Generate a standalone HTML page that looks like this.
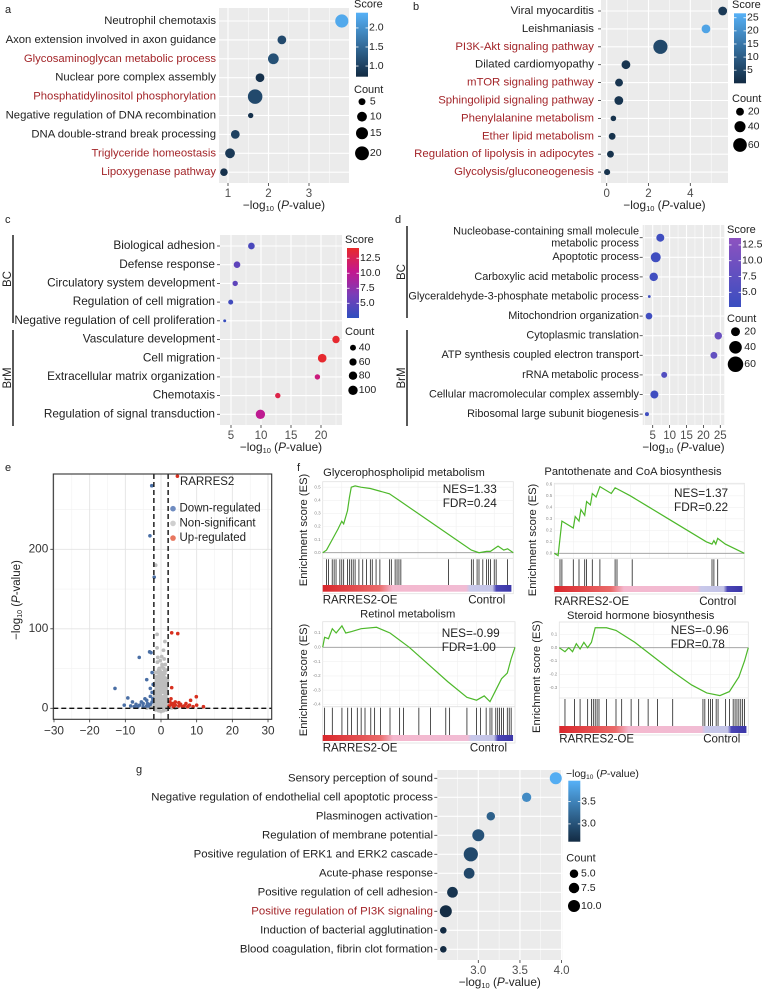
<!DOCTYPE html>
<html><head><meta charset="utf-8">
<style>
html,body{margin:0;padding:0;background:#fff;}
svg{display:block;font-family:"Liberation Sans",sans-serif;}
</style></head>
<body>
<svg id="fig" width="762" height="991" viewBox="0 0 762 991" xmlns="http://www.w3.org/2000/svg"></svg>
<script>
// ---------- Panel a data ----------
const aTerms=["Neutrophil chemotaxis","Axon extension involved in axon guidance","Glycosaminoglycan metabolic process","Nuclear pore complex assembly","Phosphatidylinositol phosphorylation","Negative regulation of DNA recombination","DNA double-strand break processing","Triglyceride homeostasis","Lipoxygenase pathway"];
const aRed=[0,0,1,0,1,0,0,1,1];
const aVals=[3.81,2.33,2.12,1.79,1.67,1.56,1.18,1.05,0.90];
const aCounts=[18,8,12,8,22,3,8,10,6];
const aScores=[2.3,1.1,1.2,0.8,1.1,0.8,1.0,0.9,0.8];
const aTicks=[1,2,3];
const aCbTicks=[2.0,1.5,1.0];
const aCntLegend=[5,10,15,20];
// ---------- Panel b data ----------
const bTerms=["Viral myocarditis","Leishmaniasis","PI3K-Akt signaling pathway","Dilated cardiomyopathy","mTOR signaling pathway","Sphingolipid signaling pathway","Phenylalanine metabolism","Ether lipid metabolism","Regulation of lipolysis in adipocytes","Glycolysis/gluconeogenesis"];
const bRed=[0,0,1,0,1,1,1,1,1,1];
const bVals=[5.55,4.75,2.57,0.92,0.59,0.58,0.32,0.26,0.18,0.02];
const bCounts=[25,25,65,25,20,25,10,15,15,12];
const bScores=[3,24,6,2,2,2,1.5,1.5,1.5,1.5];
const bTicks=[0,2,4];
const bCbTicks=[25,20,15,10,5];
const bCntLegend=[20,40,60];
// ---------- Panel c data ----------
const cTerms=["Biological adhesion","Defense response","Circulatory system development","Regulation of cell migration","Negative regulation of cell proliferation","Vasculature development","Cell migration","Extracellular matrix organization","Chemotaxis","Regulation of signal transduction"];
const cVals=[8.4,6.0,5.7,4.95,3.95,22.5,20.2,19.4,12.8,9.9];
const cCounts=[50,50,33,28,10,62,84,33,33,100];
const cScores=[4,5,5,3.5,3,14,14,11,13,10];
const cTicks=[5,10,15,20];
const cCbTicks=[12.5,10.0,7.5,5.0];
const cCntLegend=[40,60,80,100];
// ---------- Panel d data ----------
const dTerms=["Nucleobase-containing small molecule\nmetabolic process","Apoptotic process","Carboxylic acid metabolic process","Glyceraldehyde-3-phosphate metabolic process","Mitochondrion organization","Cytoplasmic translation","ATP synthesis coupled electron transport","rRNA metabolic process","Cellular macromolecular complex assembly","Ribosomal large subunit biogenesis"];
const dVals=[7.25,5.9,5.3,4.0,3.9,24.4,23.1,8.4,5.5,3.3];
const dCounts=[16,25,18,2,11,14,12,9,16,4];
const dScores=[3.5,3.5,3.5,3,3.5,9,8,6,3.5,3.5];
const dTicks=[5,10,15,20,25];
const dCbTicks=[12.5,10.0,7.5,5.0];
const dCntLegend=[20,40,60];
// ---------- Panel e data (volcano) ----------
const eDown=[[-2.6,280],[-3.1,217],[-1.9,165],[-3.2,71],[-2.8,70],[-6.1,64],[-4,36],[-12.9,25],[-9.3,13],[-10.3,4],[-8,8],[-7,5],[-6,4],[-5,6],[-4,10],[-3,15],[-3.5,3],[-2.5,20],[-2.2,30],[-6.5,2],[-5,2],[-4,3],[-3,5],[-2.5,8],[-2.3,12],[-4.5,12],[-3,25],[-2.5,45],[-8.5,3],[-7.5,2],[-5.5,8],[-3.8,6]];
const eUp=[[4.6,292],[3.0,95],[4.7,94],[3.0,26],[9.9,14.6],[8.3,10],[11.9,2],[7,6],[2.5,8],[3,5],[4,4],[5,3],[5.5,5],[6,2],[6.5,3],[4,8],[3.5,2],[7.5,2],[8,4],[9,2],[10,4],[2.8,12],[5,7],[2.3,3],[3.3,6]];
const eNs=[[-1.5,180],[-1.1,93],[1.1,84],[0.7,73],[-1.1,76],[-1,58],[0.3,55],[-0.5,50],[0.9,62],[-1.6,45],[1.5,48],[-0.8,40],[0.5,42],[1.8,35],[-1.8,30],[0.2,38],[-0.3,33],[1.2,28],[-1.3,25],[0.8,30],[-0.6,22],[1.6,20],[-1.9,15],[0.4,25],[-0.2,18],[1,15],[-1.2,12],[0.6,20],[-0.9,10],[1.4,14],[-1.4,8],[0,10],[1.9,8],[-1.7,6],[0.1,5],[-0.4,6],[1.3,4],[-0.7,3],[0.9,2],[-1.5,2],[1.7,12],[-1,26],[0.5,30],[-0.1,35],[1.1,44],[-1.6,18],[0.3,22],[-0.8,16],[1.5,10],[-1.3,6],[0.7,4],[-0.5,3],[1.8,2],[-1.9,5],[0.2,7],[-0.2,9],[1.2,11],[-1.1,1],[0.6,1],[-0.6,0],[0,45],[0.4,40],[-0.4,42],[1.0,36],[-1.0,33],[1.4,30],[-1.4,28],[0.8,50],[-0.7,48],[0.2,28],[-0.2,26],[0.6,12],[-0.6,14],[1.6,6],[-1.6,10],[0,2],[0,20],[0.9,24],[-0.9,20],[2.5,1],[-2.5,1],[3,0.5],[-3,0.5],[4,0.2],[-4,0.2],
[-1.2,40],[1.2,38],[-0.5,36],[0.5,34],[0,30],[-1.5,32],[1.5,24],[0,15],[-0.8,28],[0.8,40],[-1.2,20],[1.2,18],[-0.4,12],[0.4,14],[-1.7,22],[1.7,28],[0,40],[-0.9,45],[0.9,46],[-0.3,48],[0.3,52],[-1.3,36],[1.3,34],[0,25],[-0.6,30],[0.6,26],[-1.8,12],[1.8,18],[-1.0,6],[1.0,8],[0,5],[-0.3,2],[0.3,3],[-1.4,16],[1.4,20],[-0.2,60],[0.2,65],[1.2,55],[-0.9,64],[0,-4],[0.7,-3],[-0.7,-3],[1.5,-2],[-1.5,-2]];
const eXTicks=[-30,-20,-10,0,10,20,30];
const eYTicks=[0,100,200];
// ---------- Panel f data (GSEA) ----------
const f1Pos=[0,0.02,0.05,0.08,0.1,0.11,0.13,0.14,0.15,0.17,0.2,0.25,0.3,0.35,0.4,0.5,0.6,0.7,0.78,0.82,0.86,0.88,0.92,0.95,0.97,1.0];
const f1ES=[0,0.02,0.1,0.18,0.24,0.22,0.32,0.42,0.5,0.51,0.5,0.49,0.47,0.45,0.4,0.3,0.2,0.1,0.02,0,0.01,0.01,0.05,0.02,0.03,0];
const f1Bars=[0.02,0.03,0.05,0.06,0.07,0.09,0.1,0.11,0.13,0.14,0.15,0.16,0.17,0.19,0.21,0.23,0.25,0.26,0.28,0.3,0.35,0.36,0.38,0.39,0.4,0.41,0.66,0.78,0.79,0.81,0.82,0.84,0.86,0.87,0.88,0.9,0.91,0.97];
const f2Pos=[0,0.02,0.03,0.04,0.1,0.11,0.13,0.14,0.16,0.17,0.19,0.2,0.22,0.24,0.3,0.32,0.4,0.5,0.6,0.7,0.8,0.83,0.84,0.85,0.86,0.9,1];
const f2ES=[0,-0.02,0.13,0.28,0.22,0.32,0.28,0.38,0.33,0.45,0.42,0.52,0.49,0.58,0.52,0.57,0.5,0.4,0.3,0.2,0.1,0.08,0.11,0.08,0.13,0.08,0];
const f2Bars=[0.03,0.04,0.1,0.13,0.16,0.17,0.2,0.24,0.32,0.33,0.41,0.83,0.84,0.86];
const f3Pos=[0,0.01,0.03,0.05,0.07,0.1,0.12,0.15,0.2,0.28,0.35,0.45,0.55,0.65,0.75,0.8,0.84,0.87,0.9,0.93,0.96,0.98,1];
const f3ES=[0,0.07,0.06,0.13,0.1,0.15,0.1,0.11,0.13,0.14,0.1,0,-0.12,-0.24,-0.35,-0.37,-0.34,-0.38,-0.3,-0.22,-0.18,-0.08,0];
const f3Bars=[0.01,0.05,0.1,0.13,0.15,0.18,0.2,0.22,0.25,0.27,0.3,0.35,0.4,0.42,0.5,0.56,0.64,0.66,0.75,0.8,0.82,0.85,0.87,0.88,0.9,0.91,0.92,0.93,0.94,0.96,0.97,0.98];
const f4Pos=[0,0.03,0.05,0.07,0.09,0.11,0.13,0.15,0.17,0.19,0.25,0.3,0.4,0.5,0.6,0.7,0.78,0.85,0.9,0.95,0.98,1];
const f4ES=[0,-0.03,0,-0.03,0.03,-0.01,0.04,0,0.04,0.15,0.15,0.13,0.04,-0.07,-0.18,-0.28,-0.34,-0.36,-0.33,-0.22,-0.1,0];
const f4Bars=[0.03,0.08,0.11,0.15,0.17,0.18,0.19,0.2,0.21,0.25,0.3,0.33,0.38,0.42,0.47,0.52,0.6,0.76,0.77,0.79,0.8,0.81,0.83,0.84,0.88,0.9,0.92,0.93,0.94,0.95,0.96,0.97,0.98];
// ---------- Panel g data ----------
const gTerms=["Sensory perception of sound","Negative regulation of endothelial cell apoptotic process","Plasminogen activation","Regulation of membrane potential","Positive regulation of ERK1 and ERK2 cascade","Acute-phase response","Positive regulation of cell adhesion","Positive regulation of PI3K signaling","Induction of bacterial agglutination","Blood coagulation, fibrin clot formation"];
const gRed=[0,0,0,0,0,0,0,1,0,0];
const gVals=[3.93,3.58,3.15,3.0,2.91,2.89,2.69,2.61,2.58,2.58];
const gCounts=[10,6,5,10,14,8,8,10,3,3];
const gTicks=[3.0,3.5,4.0];
const gCbTicks=[3.5,3.0];
const gCntLegend=[5.0,7.5,10.0];

// ---------- helpers ----------
const NS='http://www.w3.org/2000/svg';
const svg=document.getElementById('fig');
const FS=11.4;
function mk(tag,attrs,name,parent){
  const el=document.createElementNS(NS,tag);
  for(const k in attrs) el.setAttribute(k,attrs[k]);
  
  
  (parent||svg).appendChild(el);
  return el;
}
function txt(x,y,s,name,o){
  o=o||{};
  const t=mk('text',{x:x,y:y,'font-size':o.fs||FS,fill:o.fill||'#222','text-anchor':o.anchor||'start','dominant-baseline':'middle'},name,o.parent);
  if(o.rot) t.setAttribute('transform','rotate('+o.rot+' '+x+' '+y+')');
  t.textContent=s;
  return t;
}
function hex(c){return [parseInt(c.substr(1,2),16),parseInt(c.substr(3,2),16),parseInt(c.substr(5,2),16)];}
function lerpC(stops,t){
  t=Math.max(0,Math.min(1,t));
  const n=stops.length-1, i=Math.min(n-1,Math.floor(t*n)), f=t*n-i;
  const a=hex(stops[i]),b=hex(stops[i+1]);
  return 'rgb('+a.map((v,k)=>Math.round(v+(b[k]-v)*f)).join(',')+')';
}
function axisTitle(x,y,name){
  const t=mk('text',{x:x,y:y,'font-size':11.8,fill:'#222','text-anchor':'middle','dominant-baseline':'middle'},name);
  const s1=mk('tspan',{},'title-log',t); s1.textContent='\u2212log';
  const s2=mk('tspan',{'font-size':7.5,dy:3},'title-sub',t); s2.textContent='10';
  const s3=mk('tspan',{dy:-3},'title-paren',t); s3.textContent=' (';
  const s4=mk('tspan',{'font-style':'italic'},'title-p',t); s4.textContent='P';
  const s5=mk('tspan',{},'title-rest',t); s5.textContent='-value)';
}
let gid=0;
function dotPanel(c){
  const p=c.name;
  const X=v=>c.org+v*c.ppu;
  mk('rect',{x:c.x0,y:c.y0,width:c.x1-c.x0,height:c.y1-c.y0,fill:'#EBEBEB'},p+'-plot-background');
  for(let i=0;i<c.ticks.length-1;i++){
    const m=(c.ticks[i]+c.ticks[i+1])/2;
    mk('line',{x1:X(m),x2:X(m),y1:c.y0,y2:c.y1,stroke:'#fff','stroke-width':0.5},p+'-minor-grid');
  }
  const m0=c.ticks[0]-(c.ticks[1]-c.ticks[0])/2, mN=c.ticks[c.ticks.length-1]+(c.ticks[1]-c.ticks[0])/2;
  [m0,mN].forEach(m=>{ if(X(m)>c.x0&&X(m)<c.x1) mk('line',{x1:X(m),x2:X(m),y1:c.y0,y2:c.y1,stroke:'#fff','stroke-width':0.5},p+'-minor-grid');});
  c.ticks.forEach(t=>{
    mk('line',{x1:X(t),x2:X(t),y1:c.y0,y2:c.y1,stroke:'#fff','stroke-width':1.1},p+'-major-grid');
    mk('line',{x1:X(t),x2:X(t),y1:c.y1,y2:c.y1+3,stroke:'#333','stroke-width':0.8},p+'-x-tick');
    txt(X(t),c.y1+11,c.dec?t.toFixed(c.dec):String(t),p+'-x-tick-label',{fs:11.5,fill:'#4d4d4d',anchor:'middle'});
  });
  c.terms.forEach((term,i)=>{
    const y=c.row0+i*c.step;
    mk('line',{x1:c.x0,x2:c.x1,y1:y,y2:y,stroke:'#fff','stroke-width':1.1},p+'-row-grid');
    if(c.yticks) mk('line',{x1:c.x0-3,x2:c.x0,y1:y,y2:y,stroke:'#333','stroke-width':0.8},p+'-y-tick');
    const col=(c.red&&c.red[i])?'#A3262A':'#222';
    const lines=term.split('\n');
    if(lines.length===1) txt(c.lx,y,term,p+'-term-label',{anchor:'end',fill:col,fs:c.fs});
    else { txt(c.lx,y-6,lines[0],p+'-term-label',{anchor:'end',fill:col,fs:c.fs}); txt(c.lx,y+6,lines[1],p+'-term-label',{anchor:'end',fill:col,fs:c.fs}); }
  });
  c.terms.forEach((term,i)=>{
    const y=c.row0+i*c.step;
    const sc=c.scores[i];
    mk('circle',{cx:X(c.vals[i]),cy:y,r:c.rk*Math.sqrt(c.counts[i]),fill:lerpC(c.cstops,(sc-c.cdom[0])/(c.cdom[1]-c.cdom[0]))},p+'-dot');
  });
  axisTitle((c.x0+c.x1)/2,c.y1+23,p+'-x-axis-title');
  const id='grad'+(gid++);
  const defs=mk('defs',{},p+'-defs');
  const lg=mk('linearGradient',{id:id,x1:0,y1:1,x2:0,y2:0},p+'-gradient',defs);
  c.cstops.forEach((s,k)=>mk('stop',{offset:k/(c.cstops.length-1),'stop-color':s},p+'-stop',lg));
  mk('rect',{x:c.cbx,y:c.cby0,width:12,height:c.cby1-c.cby0,fill:'url(#'+id+')'},p+'-colorbar');
  if(c.cbTitle) txt(c.cbx-2,c.cby0-8,c.cbTitle,p+'-colorbar-title',{fs:11});
  const CY=v=>c.cby1-(v-c.cdom[0])/(c.cdom[1]-c.cdom[0])*(c.cby1-c.cby0);
  c.cbTicks.forEach(t=>{
    mk('line',{x1:c.cbx,x2:c.cbx+2.5,y1:CY(t),y2:CY(t),stroke:'#fff','stroke-width':0.8},p+'-colorbar-tick');
    mk('line',{x1:c.cbx+9.5,x2:c.cbx+12,y1:CY(t),y2:CY(t),stroke:'#fff','stroke-width':0.8},p+'-colorbar-tick');
    txt(c.cbx+13,CY(t),c.cbDec?t.toFixed(c.cbDec):String(t),p+'-colorbar-label',{fs:10.5});
  });
  txt(c.cbx-2,c.cntTitleY,'Count',p+'-count-legend-title',{fs:11});
  c.cnt.forEach((v,k)=>{
    const y=c.cntY[k];
    mk('circle',{cx:c.cntX,cy:y,r:c.rk*Math.sqrt(v),fill:'#000'},p+'-count-legend-dot');
    txt(c.cntX+c.rk*Math.sqrt(c.cnt[c.cnt.length-1])+1,y,c.cntDec?v.toFixed(c.cntDec):String(v),p+'-count-legend-label',{fs:10.5});
  });
}
const BLUE=['#132B43','#56B1F7'];
dotPanel({name:'panel-a',terms:aTerms,red:aRed,vals:aVals,counts:aCounts,scores:aScores,ticks:aTicks,fs:11.3,
  x0:219,x1:349,y0:8,y1:183,org:187.5,ppu:40.5,row0:21,step:18.9,lx:216,yticks:false,rk:1.55,
  cstops:BLUE,cdom:[0.72,2.4],cbx:356,cby0:12.7,cby1:76.7,cbTicks:aCbTicks,cbDec:1,cbTitle:'Score',
  cntTitleY:90,cnt:aCntLegend,cntY:[101.7,116.7,133.3,153.3],cntX:362});
dotPanel({name:'panel-b',terms:bTerms,red:bRed,vals:bVals,counts:bCounts,scores:bScores,ticks:bTicks,fs:11.4,
  x0:601,x1:728,y0:0,y1:183,org:606.7,ppu:20.9,row0:11,step:17.9,lx:594,yticks:true,rk:0.88,
  cstops:BLUE,cdom:[0,26.7],cbx:734,cby0:13.3,cby1:83.3,cbTicks:bCbTicks,cbTitle:'Score',
  cntTitleY:99,cnt:bCntLegend,cntY:[111.7,126.7,145],cntX:740});
const CSTOPS=['#2E4FBF','#7A3DB8','#C4178E','#E82A2A'];
dotPanel({name:'panel-c',terms:cTerms,vals:cVals,counts:cCounts,scores:cScores,ticks:cTicks,fs:11.8,
  x0:220,x1:342,y0:235,y1:425,org:201,ppu:6,row0:246,step:18.7,lx:215,yticks:true,rk:0.47,
  cstops:CSTOPS,cdom:[2.55,14.2],cbx:347,cby0:248,cby1:318,cbTicks:cCbTicks,cbDec:1,cbTitle:'Score',
  cntTitleY:332,cnt:cCntLegend,cntY:[347.7,362,375.7,390.3],cntX:353});
dotPanel({name:'panel-d',terms:dTerms,vals:dVals,counts:dCounts,scores:dScores,ticks:dTicks,fs:10.9,
  x0:642.7,x1:724.3,y0:225,y1:425,org:635.8,ppu:3.38,row0:237.7,step:19.6,lx:639,yticks:true,rk:1.0,
  cstops:['#3A4EC0','#8D52C0'],cdom:[2.67,13.6],cbx:729,cby0:238,cby1:307,cbTicks:dCbTicks,cbDec:1,cbTitle:'Score',
  cntTitleY:319.3,cnt:dCntLegend,cntY:[331.7,347.3,364.3],cntX:735.5});
dotPanel({name:'panel-g',terms:gTerms,red:gRed,vals:gVals,counts:gCounts,scores:gVals,ticks:gTicks,dec:1,fs:11.4,
  x0:437.3,x1:562.3,y0:770,y1:960,org:478.3-3.0*83.3,ppu:83.3,row0:778.3,step:19,lx:433,yticks:true,rk:1.9,
  cstops:BLUE,cdom:[2.6,3.97],cbx:568.3,cby0:780.7,cby1:841.7,cbTicks:gCbTicks,cbDec:1,cbTitle:'',
  cntTitleY:858.7,cnt:gCntLegend,cntDec:1,cntY:[873.7,888,906],cntX:574});
(function(){
  const t=mk('text',{x:566,y:774,'font-size':10.5,fill:'#222','dominant-baseline':'middle'},'panel-g-colorbar-title');
  const a=mk('tspan',{},'cb-log',t); a.textContent='\u2212log';
  const b=mk('tspan',{'font-size':6.5,dy:3},'cb-sub',t); b.textContent='10';
  const c=mk('tspan',{dy:-3},'cb-paren',t); c.textContent=' (';
  const d=mk('tspan',{'font-style':'italic'},'cb-p',t); d.textContent='P';
  const e=mk('tspan',{},'cb-rest',t); e.textContent='-value)';
})();
function bracket(x,y0,y1,label,name){
  mk('line',{x1:x,x2:x,y1:y0,y2:y1,stroke:'#222','stroke-width':1.5},name+'-line');
  txt(x-5,(y0+y1)/2,label,name+'-label',{rot:-90,anchor:'middle',fs:11.5});
}
bracket(13,235,323,'BC','panel-c-bc-bracket');
bracket(13,330,426,'BrM','panel-c-brm-bracket');
bracket(407,226,318,'BC','panel-d-bc-bracket');
bracket(407,330,426,'BrM','panel-d-brm-bracket');

// ---------- Panel e volcano ----------
(function(){
  const x0=53.3,x1=271.7,y0=474,y1=719.3;
  const X=v=>161+v*3.567, Y=v=>708.3-v*0.795;
  mk('rect',{x:x0,y:y0,width:x1-x0,height:y1-y0,fill:'#fff'},'volcano-background');
  for(let v=-25;v<=30;v+=10) mk('line',{x1:X(v),x2:X(v),y1:y0,y2:y1,stroke:'#f2f2f2','stroke-width':0.6},'volcano-minor-grid');
  [50,150,250].forEach(v=>mk('line',{x1:x0,x2:x1,y1:Y(v),y2:Y(v),stroke:'#f2f2f2','stroke-width':0.6},'volcano-minor-grid'));
  eXTicks.forEach(v=>{
    mk('line',{x1:X(v),x2:X(v),y1:y0,y2:y1,stroke:'#e3e3e3','stroke-width':0.9},'volcano-major-grid');
    mk('line',{x1:X(v),x2:X(v),y1:y1,y2:y1+3,stroke:'#333','stroke-width':0.8},'volcano-x-tick');
    txt(X(v),y1+12,v<0?'\u2212'+Math.abs(v):String(v),'volcano-x-tick-label',{fs:11.8,fill:'#333',anchor:'middle'});
  });
  eYTicks.forEach(v=>{
    mk('line',{x1:x0,x2:x1,y1:Y(v),y2:Y(v),stroke:'#e3e3e3','stroke-width':0.9},'volcano-major-grid');
    mk('line',{x1:x0-3,x2:x0,y1:Y(v),y2:Y(v),stroke:'#333','stroke-width':0.8},'volcano-y-tick');
    txt(x0-5,Y(v),String(v),'volcano-y-tick-label',{fs:11.8,fill:'#333',anchor:'end'});
  });
  eNs.forEach(p=>mk('circle',{cx:X(p[0]),cy:Y(p[1]),r:1.9,fill:'#BDBDBD'},'volcano-point-nonsig'));
  eDown.forEach(p=>mk('circle',{cx:X(p[0]),cy:Y(p[1]),r:1.8,fill:'#4A6FA5'},'volcano-point-down'));
  eUp.forEach(p=>mk('circle',{cx:X(p[0]),cy:Y(p[1]),r:1.8,fill:'#D7301F'},'volcano-point-up'));
  [-2,2].forEach(v=>mk('line',{x1:X(v),x2:X(v),y1:y0,y2:y1,stroke:'#111','stroke-width':1.4,'stroke-dasharray':'5,3'},'volcano-fc-threshold'));
  mk('line',{x1:x0,x2:x1,y1:Y(0),y2:Y(0),stroke:'#111','stroke-width':1.4,'stroke-dasharray':'5,3'},'volcano-p-threshold');
  mk('rect',{x:x0,y:y0,width:x1-x0,height:y1-y0,fill:'none',stroke:'#333','stroke-width':1.1},'volcano-frame');
  txt(180,482,'RARRES2','volcano-highlight-label',{fs:11.5});
  const leg=[['Down-regulated','#6F8CC0'],['Non-significant','#CFCFCF'],['Up-regulated','#E8775F']];
  leg.forEach((l,k)=>{
    const y=508.7+k*14.7;
    mk('circle',{cx:173,cy:y,r:2.8,fill:l[1]},'volcano-legend-swatch');
    txt(179.5,y,l[0],'volcano-legend-label',{fs:11.5});
  });
  const t=mk('text',{x:17,y:600,'font-size':11.5,fill:'#222','text-anchor':'middle','dominant-baseline':'middle',transform:'rotate(-90 17 600)'},'volcano-y-axis-title');
  const a=mk('tspan',{},'yl-log',t); a.textContent='\u2212log';
  const b=mk('tspan',{'font-size':7,dy:3},'yl-sub',t); b.textContent='10';
  const c=mk('tspan',{dy:-3},'yl-paren',t); c.textContent=' (';
  const d=mk('tspan',{'font-style':'italic'},'yl-p',t); d.textContent='P';
  const e=mk('tspan',{},'yl-rest',t); e.textContent='-value)';
})();

// ---------- Panel f GSEA ----------
function gsea(c){
  const p=c.name;
  const X=f=>c.x0+f*(c.x1-c.x0), Y=v=>c.zero-v*10*c.unit;
  mk('rect',{x:c.x0,y:c.esTop,width:c.x1-c.x0,height:c.colBot-c.esTop+2,fill:'#fff',stroke:'#e0e0e0','stroke-width':0.8},p+'-frame');
  for(let k=1;k<10;k++) mk('line',{x1:X(k/10),x2:X(k/10),y1:c.esTop,y2:c.esBot,stroke:'#f0f0f0','stroke-width':0.6},p+'-grid');
  c.yt.forEach(v=>{
    mk('line',{x1:c.x0,x2:c.x1,y1:Y(v),y2:Y(v),stroke:'#f0f0f0','stroke-width':0.6},p+'-grid');
    txt(c.x0-2,Y(v),v.toFixed(1),p+'-y-tick-label',{fs:4.5,fill:'#888',anchor:'end'});
  });
  mk('line',{x1:c.x0,x2:c.x1,y1:c.zero,y2:c.zero,stroke:'#9a9a9a','stroke-width':0.8},p+'-zero-line');
  mk('line',{x1:c.x0,x2:c.x1,y1:c.esBot,y2:c.esBot,stroke:'#e0e0e0','stroke-width':0.8},p+'-separator');
  mk('polyline',{points:c.pos.map((f,i)=>X(f)+','+Y(c.es[i])).join(' '),fill:'none',stroke:'#4DB82A','stroke-width':1.2},p+'-es-curve');
  c.bars.forEach(f=>mk('line',{x1:X(f),x2:X(f),y1:c.esBot+1,y2:c.colTop,stroke:'#222','stroke-width':0.8},p+'-hit-bar'));
  const id='fg'+(gid++);
  const defs=mk('defs',{},p+'-defs');
  const lg=mk('linearGradient',{id:id,x1:0,y1:0,x2:1,y2:0},p+'-rank-gradient',defs);
  [[0,'#D9262B'],[0.3,'#EA6A6A'],[0.37,'#F4B8CE'],[0.76,'#F1BCD4'],[0.78,'#C8C8EA'],[0.9,'#C3C3E6'],[0.92,'#4A45B5'],[1,'#3B36A8']].forEach(s=>mk('stop',{offset:s[0],'stop-color':s[1]},p+'-stop',lg));
  mk('rect',{x:c.x0,y:c.colTop,width:(c.x1-c.x0)*0.99,height:c.colBot-c.colTop,fill:'url(#'+id+')'},p+'-rank-bar');
  txt(c.x0,c.labY,'RARRES2-OE',p+'-left-label',{fs:11.5});
  txt(c.x1-8,c.labY,'Control',p+'-right-label',{fs:11.5,anchor:'end'});
  txt(c.tx,c.ty,c.title,p+'-title',{fs:11.2,anchor:'middle'});
  txt(c.nx,c.ny,'NES='+c.nes,p+'-nes',{fs:11.8});
  txt(c.nx,c.ny+14,'FDR='+c.fdr,p+'-fdr',{fs:11.8});
  txt(c.ylx,c.yly,'Enrichment score (ES)',p+'-y-axis-title',{fs:11.2,rot:-90,anchor:'middle'});
}
gsea({name:'gsea-glycerophospholipid',x0:322.7,x1:513.3,esTop:481.7,esBot:558.3,zero:552.7,unit:13.1,pos:f1Pos,es:f1ES,bars:f1Bars,
  colTop:585,colBot:591.7,labY:600.7,title:'Glycerophospholipid metabolism',tx:404,ty:473,nes:'1.33',fdr:'0.24',nx:442.7,ny:490,ylx:304,yly:530,yt:[0,0.1,0.2,0.3,0.4,0.5]});
gsea({name:'gsea-pantothenate',x0:554.3,x1:744.3,esTop:483.3,esBot:558.3,zero:553.3,unit:11.5,pos:f2Pos,es:f2ES,bars:f2Bars,
  colTop:586,colBot:592,labY:602,title:'Pantothenate and CoA biosynthesis',tx:633,ty:472,nes:'1.37',fdr:'0.22',nx:674,ny:494,ylx:533,yly:540,yt:[0,0.1,0.2,0.3,0.4,0.5,0.6]});
gsea({name:'gsea-retinol',x0:322.7,x1:515,esTop:621.7,esBot:706.7,zero:647.3,unit:14.3,pos:f3Pos,es:f3ES,bars:f3Bars,
  colTop:735,colBot:741,labY:748.5,title:'Retinol metabolism',tx:407.7,ty:614.3,nes:'-0.99',fdr:'1.00',nx:441.7,ny:634,ylx:304,yly:680,yt:[0.1,0,-0.1,-0.2,-0.3,-0.4]});
gsea({name:'gsea-steroid',x0:559.3,x1:748.3,esTop:622,esBot:698,zero:647.7,unit:13.3,pos:f4Pos,es:f4ES,bars:f4Bars,
  colTop:726,colBot:733,labY:739.5,title:'Steroid hormone biosynthesis',tx:640.7,ty:616,nes:'-0.96',fdr:'0.78',nx:670.7,ny:631,ylx:537,yly:676.7,yt:[0.1,0,-0.1,-0.2,-0.3]});

[['a',5,10],['b',413,7],['c',5,220],['d',395,220],['e',5,468],['f',297,468],['g',136,770]].forEach(l=>txt(l[1],l[2],l[0],'panel-label-'+l[0],{fs:11}));
</script>
</body></html>
